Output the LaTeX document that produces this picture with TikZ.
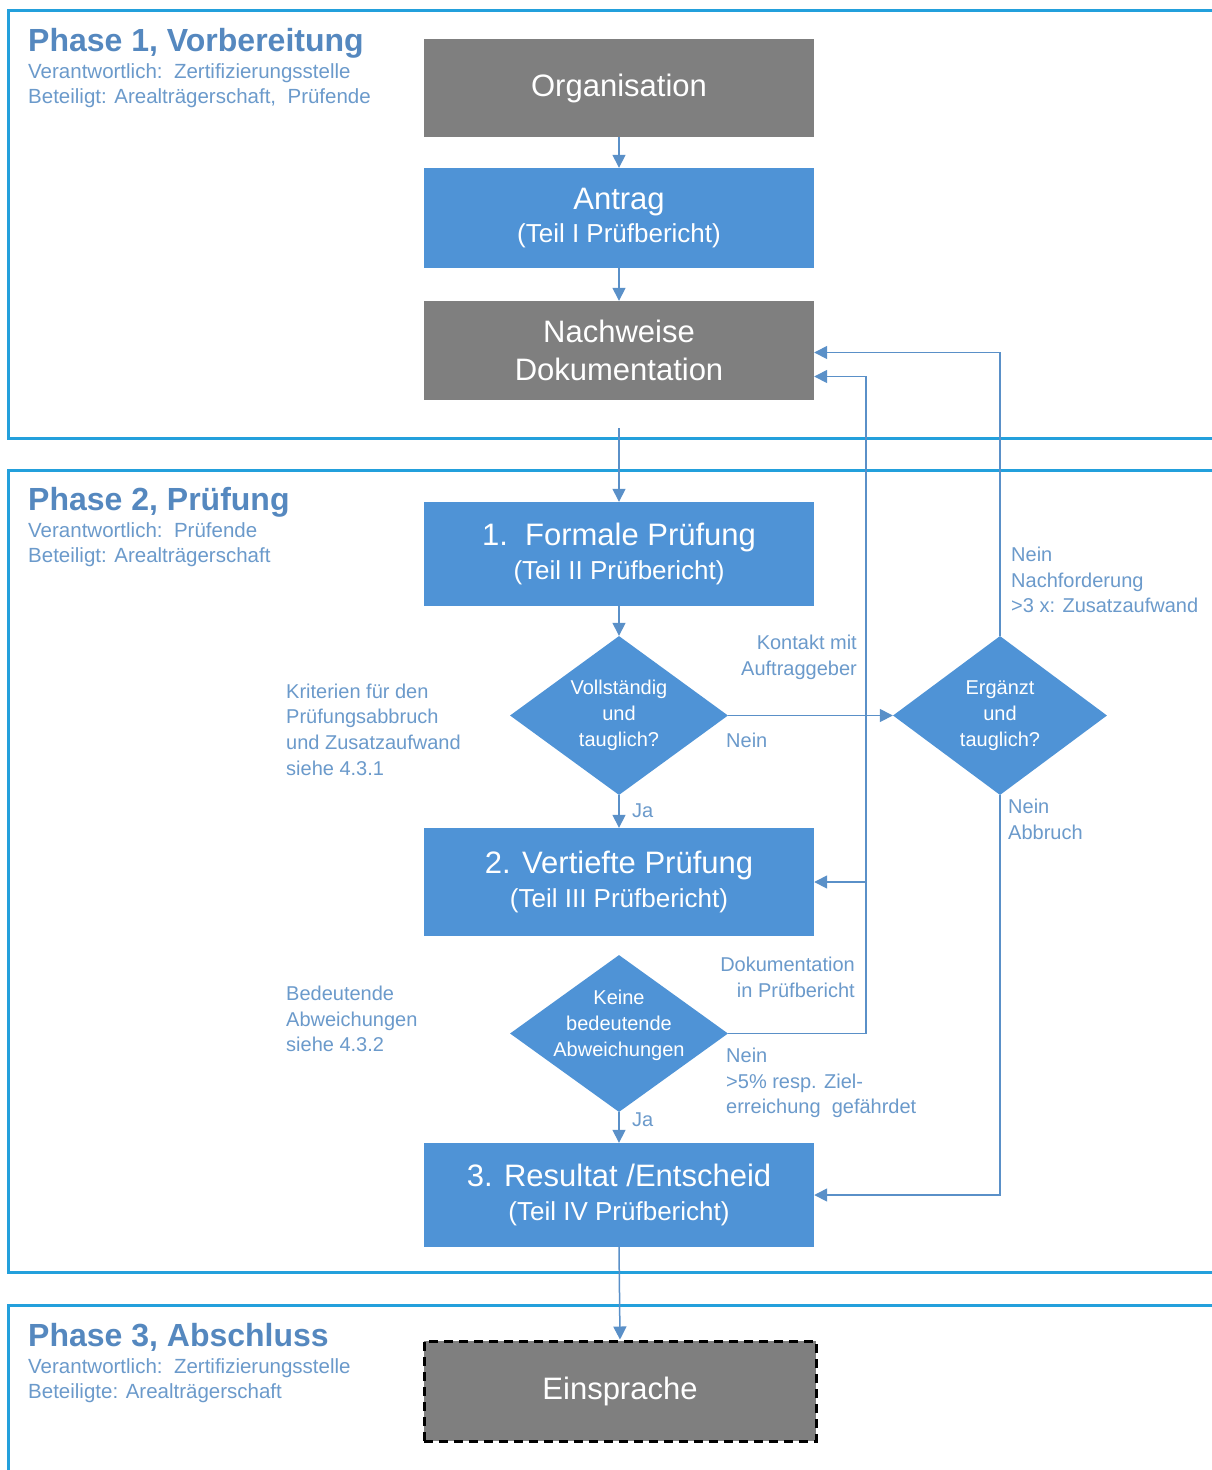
\documentclass[tikz,border=0pt]{standalone}
\usepackage{fontspec}
\setmainfont{Liberation Sans}
\usetikzlibrary{arrows.meta,shapes.geometric,calc}
\definecolor{framecol}{HTML}{23A0DC}
\definecolor{boxblue}{HTML}{4F93D6}
\definecolor{boxgray}{HTML}{7F7F7F}
\definecolor{conncol}{HTML}{5A90C8}
\definecolor{labcol}{HTML}{6B9ACB}
\definecolor{titlecol}{HTML}{5588BF}
\newcommand{\fbig}{\fontsize{31}{33.5}\selectfont}
\newcommand{\fsubb}{\fontsize{26}{33.5}\selectfont}
\newcommand{\flab}{\fontsize{20}{25.7}\selectfont}
\newcommand{\fsubt}{\fontsize{20.5}{25}\selectfont}
\newcommand{\ftitle}{\fontsize{32}{37}\selectfont\bfseries}
\begin{document}
\begin{tikzpicture}[x=1pt,y=-1pt,
  framel/.style={draw=framecol,line width=3pt},
  box/.style={minimum width=390pt,inner sep=0pt,text=white,align=center,font=\fbig},
  graybox/.style={box,fill=boxgray},
  bluebox/.style={box,fill=boxblue},
  dia/.style={diamond,fill=boxblue,inner sep=0pt,minimum width=218pt,minimum height=159pt},
  dtext/.style={text=white,font=\flab,align=center,inner sep=0pt},
  lab/.style={text=labcol,font=\flab,inner sep=0pt},
  conn/.style={draw=conncol,line width=1.5pt,-{Triangle[length=13pt,width=13pt]}},
  ptitle/.style={text=titlecol,font=\ftitle,inner sep=0pt,anchor=base west},
  psub/.style={text=labcol,font=\fsubt,inner sep=0pt,anchor=west,align=left}]
\fill[white] (0,0) rectangle (1211,1470);
\useasboundingbox (0,0) rectangle (1211,1470);

% phase frames
\draw[framel] (1212,10) -- (8,10) -- (8,438) -- (1212,438);
\draw[framel] (1212,470) -- (8,470) -- (8,1272) -- (1212,1272);
\draw[framel] (1212,1305) -- (8,1305) -- (8,1471);

% phase headers
\node[ptitle] (t1) at (28,51) {Phase 1, Vorbereitung};
\node[psub] (s1) at (28,85.5) {Verantwortlich:\ \ Zertifizierungsstelle\\Beteiligt: Arealträgerschaft,\ \ Prüfende};
\node[ptitle] (t2) at (28,510) {Phase 2, Prüfung};
\node[psub] (s2) at (28,544.5) {Verantwortlich:\ \ Prüfende\\Beteiligt: Arealträgerschaft};
\node[ptitle] (t3) at (28,1346) {Phase 3, Abschluss};
\node[psub] (s3) at (28,1380.5) {Verantwortlich:\ \ Zertifizierungsstelle\\Beteiligte: Arealträgerschaft};

% boxes
\node[graybox,minimum height=98pt] (org) at (619,88) {Organisation};
\node[bluebox,minimum height=100pt] (antrag) at (619,218) {Antrag\\\fsubb (Teil I Prüfbericht)};
\node[graybox,minimum height=99pt] (nachw) at (619,350.5) {Nachweise\\[4.5pt]Dokumentation};
\node[bluebox,minimum height=104pt] (formal) at (619,554) {1.\ \ Formale Prüfung\\\fsubb (Teil II Prüfbericht)};
\node[bluebox,minimum height=108pt] (vert) at (619,882) {2. Vertiefte Prüfung\\\fsubb (Teil III Prüfbericht)};
\node[bluebox,minimum height=104pt] (result) at (619,1195) {3. Resultat /Entscheid\\\fsubb (Teil IV Prüfbericht)};
\node[box,fill=boxgray,draw=black,line width=3pt,dash pattern=on 9pt off 6pt,minimum width=392pt,minimum height=100pt] (einspr) at (620,1391) {Einsprache};

% diamonds
\node[dia,label={[dtext]center:{Vollständig\\und\\tauglich?}}] (d1) at (619,715.5) {};
\node[dia,minimum height=157pt,label={[dtext,yshift=8pt]center:{Keine\\bedeutende\\Abweichungen}}] (d2) at (619,1033.5) {};
\node[dia,minimum width=214pt,label={[dtext]center:{Ergänzt\\und\\tauglich?}}] (d3) at (1000,715.5) {};

% connectors
\draw[conn] (org.south) -- (antrag.north);
\draw[conn] (antrag.south) -- (nachw.north);
\draw[conn,shorten <=28pt] (nachw.south) -- (formal.north);
\draw[conn] (formal.south) -- (d1.north);
\draw[conn] (d1.south) -- (vert.north);
\draw[conn] (d1.east) -- (d3.west);
\draw[conn] (d3.north) |- ([yshift=-2pt]nachw.east);
\coordinate (nlow) at ([yshift=-26pt]nachw.east);
\coordinate (bx) at (866,0);
\draw[conn] (d2.east) -| (bx |- nlow) -- (nlow);
\draw[conn] (bx |- vert.east) -- (vert.east);
\draw[conn] (d3.south) |- (result.east);
\draw[conn] (d2.south) -- (result.north);
\draw[conn] (result.south) -- (einspr.north);

% labels
\node[lab,anchor=east,align=right] (l1) at (857,657.5) {Kontakt mit\\Auftraggeber};
\node[lab,anchor=west] (l2) at (726,740) {Nein};
\node[lab,anchor=west] (l3) at (632,811) {Ja};
\node[lab,anchor=west,align=left] (l4) at (1011,580) {Nein\\Nachforderung\\>3 x: Zusatzaufwand};
\node[lab,anchor=west,align=left] (l5) at (1008,819) {Nein\\Abbruch};
\node[lab,anchor=west,align=left] (l6) at (286,729.5) {Kriterien für den\\Prüfungsabbruch\\und Zusatzaufwand\\siehe 4.3.1};
\node[lab,anchor=east,align=right] (l7) at (855,977.5) {Dokumentation\\in Prüfbericht};
\node[lab,anchor=west,align=left] (l8) at (286,1019) {Bedeutende\\Abweichungen\\siehe 4.3.2};
\node[lab,anchor=west,align=left] (l9) at (726,1083) {Nein\\>5\% resp. Ziel-\\erreichung\ \ gefährdet};
\node[lab,anchor=west] (l10) at (632,1120) {Ja};
\end{tikzpicture}
\end{document}
